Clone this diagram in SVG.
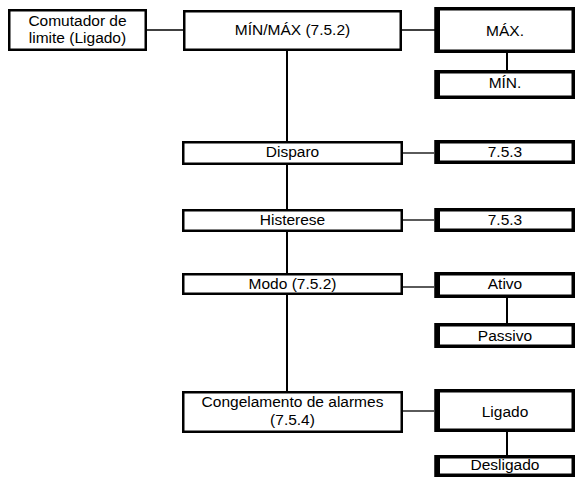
<svg xmlns="http://www.w3.org/2000/svg" width="576" height="478" viewBox="0 0 576 478">
  <style>
    .bg { fill: #ffffff; }
    .box { fill: #ffffff; stroke: #000000; stroke-width: 2.5; }
    .opt { fill: #ffffff; stroke: #000000; stroke-width: 3.5; }
    .bar { fill: #000000; }
    .link { stroke: #000000; stroke-width: 1.3; fill: none; }
    .trunk { stroke: #000000; stroke-width: 2; fill: none; }
    text { font-family: "Liberation Sans", Arial, Helvetica, sans-serif; font-size: 15.5px; fill: #000000; text-anchor: middle; }
  </style>
  <rect class="bg" x="0" y="0" width="576" height="478"/>

  <!-- connectors -->
  <g id="connectors">
    <line class="trunk" x1="287" y1="51" x2="287" y2="391"/>
    <line class="link" x1="147" y1="30" x2="183" y2="30"/>
    <line class="link" x1="402" y1="30" x2="435" y2="30"/>
    <line class="link" x1="403" y1="153" x2="434" y2="153"/>
    <line class="link" x1="403" y1="220" x2="434" y2="220"/>
    <line class="link" x1="403" y1="287" x2="434" y2="287"/>
    <line class="link" x1="403" y1="411" x2="434" y2="411"/>
    <line class="trunk" x1="507" y1="53" x2="507" y2="70"/>
    <line class="trunk" x1="507" y1="298" x2="507" y2="323"/>
    <line class="trunk" x1="507" y1="432" x2="507" y2="455"/>
  </g>

  <!-- menu column -->
  <g id="node-comutador">
    <rect class="box" x="9.25" y="10.25" width="136.5" height="39.5"/>
    <text x="77.5" y="26">Comutador de</text>
    <text x="77.5" y="43">limite (Ligado)</text>
  </g>
  <g id="node-minmax">
    <rect class="box" x="184.25" y="11.25" width="216.5" height="38.5"/>
    <text x="292.5" y="34.5">MÍN/MÁX (7.5.2)</text>
  </g>
  <g id="node-disparo">
    <rect class="box" x="183.25" y="142.25" width="218.5" height="21.5"/>
    <text x="292.5" y="157">Disparo</text>
  </g>
  <g id="node-histerese">
    <rect class="box" x="183.25" y="210.25" width="218.5" height="20.5"/>
    <text x="292.5" y="225">Histerese</text>
  </g>
  <g id="node-modo">
    <rect class="box" x="183.25" y="274.25" width="218.5" height="19.5"/>
    <text x="292.5" y="288.5">Modo (7.5.2)</text>
  </g>
  <g id="node-congelamento">
    <rect class="box" x="183.25" y="392.25" width="218.5" height="39.5"/>
    <text x="292.5" y="407">Congelamento de alarmes</text>
    <text x="292.5" y="425">(7.5.4)</text>
  </g>

  <!-- option column -->
  <g id="node-max">
    <rect class="opt" x="436.25" y="8.75" width="137" height="42.5"/>
    <rect class="bar" x="434.5" y="7" width="5.5" height="46"/>
    <text x="505" y="36">MÁX.</text>
  </g>
  <g id="node-min">
    <rect class="opt" x="436.25" y="71.75" width="137" height="25.5"/>
    <rect class="bar" x="434.5" y="70" width="5.5" height="29"/>
    <text x="505" y="87.5">MÍN.</text>
  </g>
  <g id="node-disparo-ref">
    <rect class="opt" x="436.25" y="141.75" width="137" height="20.5"/>
    <rect class="bar" x="434.5" y="140" width="5.5" height="24"/>
    <text x="505" y="156.7">7.5.3</text>
  </g>
  <g id="node-histerese-ref">
    <rect class="opt" x="436.25" y="209.75" width="137" height="20.5"/>
    <rect class="bar" x="434.5" y="208" width="5.5" height="24"/>
    <text x="505" y="225">7.5.3</text>
  </g>
  <g id="node-ativo">
    <rect class="opt" x="436.25" y="273.75" width="137" height="22.5"/>
    <rect class="bar" x="434.5" y="272" width="5.5" height="26"/>
    <text x="505" y="288.5">Ativo</text>
  </g>
  <g id="node-passivo">
    <rect class="opt" x="436.25" y="324.75" width="137" height="21.5"/>
    <rect class="bar" x="434.5" y="323" width="5.5" height="25"/>
    <text x="505" y="340.5">Passivo</text>
  </g>
  <g id="node-ligado">
    <rect class="opt" x="436.25" y="390.75" width="137" height="39.5"/>
    <rect class="bar" x="434.5" y="389" width="5.5" height="43"/>
    <text x="505" y="416.7">Ligado</text>
  </g>
  <g id="node-desligado">
    <rect class="opt" x="436.25" y="456.75" width="137" height="18.5"/>
    <rect class="bar" x="434.5" y="455" width="5.5" height="22"/>
    <text x="505" y="469.5">Desligado</text>
  </g>
</svg>
